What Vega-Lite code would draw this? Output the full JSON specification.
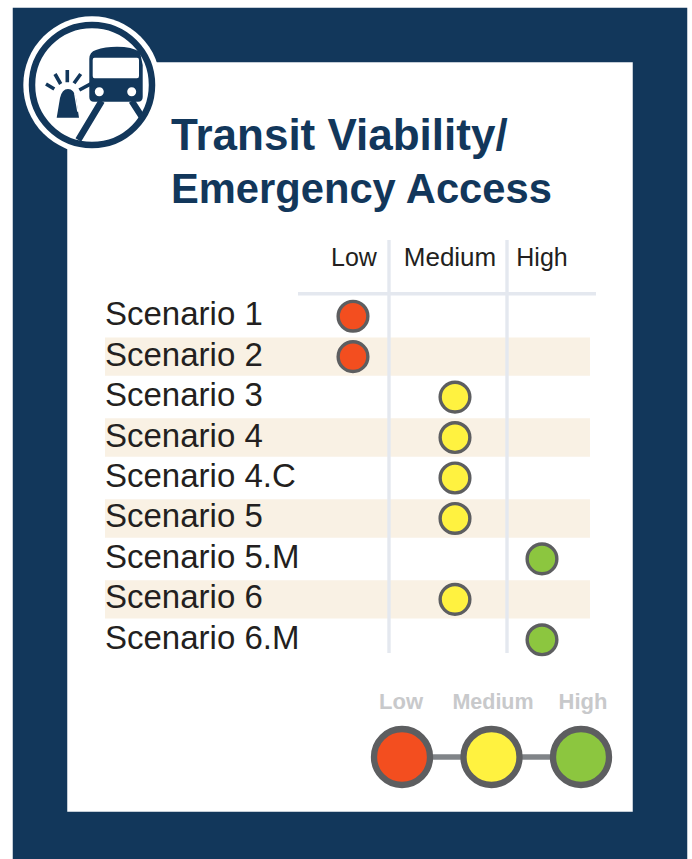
{
"$schema":"https://vega.github.io/schema/vega-lite/v6.json",
"width":620,"height":804,
"autosize":{"type":"none"},
"padding":{"left":40,"top":35,"right":32,"bottom":20},
"background":"white",
"view":{"fill":"white","stroke":"#12375b","strokeWidth":54.5},
"datasets":{
"scenarios":[
{"scenario":"Scenario 1","level":"Low","score":1,"striped":false},
{"scenario":"Scenario 2","level":"Low","score":1,"striped":true},
{"scenario":"Scenario 3","level":"Medium","score":2,"striped":false},
{"scenario":"Scenario 4","level":"Medium","score":2,"striped":true},
{"scenario":"Scenario 4.C","level":"Medium","score":2,"striped":false},
{"scenario":"Scenario 5","level":"Medium","score":2,"striped":true},
{"scenario":"Scenario 5.M","level":"High","score":3,"striped":false},
{"scenario":"Scenario 6","level":"Medium","score":2,"striped":true},
{"scenario":"Scenario 6.M","level":"High","score":3,"striped":false}
],
"levels":[{"level":"Low"},{"level":"Medium"},{"level":"High"}]
},
"resolve":{"scale":{"x":"independent","y":"independent"}},
"layer":[
{"layer":[
{"data":{"name":"scenarios"},"transform":[{"filter":"datum.striped"}],
"mark":{"type":"rect","fill":"#f9f1e4"},
"encoding":{
"x":{"datum":0,"type":"quantitative","axis":null,"scale":{"domain":[0,1,2,3,4],"range":[65,313,415,502,550]}},
"x2":{"datum":4},
"y":{"field":"scenario","type":"nominal","axis":null,"sort":null,"scale":{"type":"band","domain":["Scenario 1","Scenario 2","Scenario 3","Scenario 4","Scenario 4.C","Scenario 5","Scenario 5.M","Scenario 6","Scenario 6.M"],"range":[262,624],"paddingInner":0.05,"paddingOuter":0}}
}}
]},
{"layer":[
{"data":{"values":[{"element":"badge"}]},"mark":{"type":"point","shape":"circle","filled":true,"fill":"white","stroke":null,"size":18879,"opacity":1},
"encoding":{"x":{"datum":92,"type":"quantitative","axis":null,"scale":{"domain":[40,660],"nice":false,"zero":false}},"y":{"datum":85,"type":"quantitative","axis":null,"scale":{"domain":[35,839],"reverse":true,"nice":false,"zero":false}}}},
{"data":{"values":[{"element":"ring"}]},"mark":{"type":"point","shape":"circle","filled":false,"stroke":"#12375b","strokeWidth":6.5,"size":14400,"opacity":1},
"encoding":{"x":{"datum":92,"type":"quantitative","axis":null,"scale":{"domain":[40,660],"nice":false,"zero":false}},"y":{"datum":85,"type":"quantitative","axis":null,"scale":{"domain":[35,839],"reverse":true,"nice":false,"zero":false}}}},
{"data":{"values":[{"element":"train and beacon"}]},"mark":{"type":"point","filled":true,"fill":"#12375b","stroke":null,"size":4,"opacity":1,"shape":"M-2.7 -26Q-2.7 -33 4 -35Q13 -38.3 25 -38.3Q40 -38.3 48 -33L50.7 -20L50.7 12Q50.7 16.7 46 16.7L2 16.7Q-2.7 16.7 -2.7 12ZM-35.3 32.7L-32 13Q-30 4 -24 4Q-18 4 -16 13L-13 32.7Z"},
"encoding":{"x":{"datum":92,"type":"quantitative","axis":null,"scale":{"domain":[40,660],"nice":false,"zero":false}},"y":{"datum":85,"type":"quantitative","axis":null,"scale":{"domain":[35,839],"reverse":true,"nice":false,"zero":false}}}},
{"data":{"values":[{"element":"train window and lights"}]},"mark":{"type":"point","filled":true,"fill":"white","stroke":null,"size":4,"opacity":1,"shape":"M2.5 -27.3L45 -27.3Q47 -27.3 47 -25L47 -9Q47 -6.7 45 -6.7L2.5 -6.7Q0.7 -6.7 0.7 -9L0.7 -25Q0.7 -27.3 2.5 -27.3ZM2.8 6.7A4.5 4.5 0 1 0 11.8 6.7A4.5 4.5 0 1 0 2.8 6.7ZM35.2 6.7A4.5 4.5 0 1 0 44.2 6.7A4.5 4.5 0 1 0 35.2 6.7ZM-18 8.3L-16.6 8.3L-13.6 26.7L-14.8 26.7Z"},
"encoding":{"x":{"datum":92,"type":"quantitative","axis":null,"scale":{"domain":[40,660],"nice":false,"zero":false}},"y":{"datum":85,"type":"quantitative","axis":null,"scale":{"domain":[35,839],"reverse":true,"nice":false,"zero":false}}}},
{"data":{"values":[{"element":"tracks"}]},"mark":{"type":"point","filled":false,"stroke":"#12375b","strokeWidth":6.5,"size":4,"opacity":1,"shape":"M9.7 16L-13.7 55M39.7 16L50 32"},
"encoding":{"x":{"datum":92,"type":"quantitative","axis":null,"scale":{"domain":[40,660],"nice":false,"zero":false}},"y":{"datum":85,"type":"quantitative","axis":null,"scale":{"domain":[35,839],"reverse":true,"nice":false,"zero":false}}}},
{"data":{"values":[{"element":"beacon rays"}]},"mark":{"type":"point","filled":false,"stroke":"#12375b","strokeWidth":3.6,"size":4,"opacity":1,"shape":"M-46 -1L-37.7 4M-37 -11L-31.3 -1M-24.7 -15L-24.7 -2.7M-11.3 -11L-18 -1.7M-0.3 -1.7L-12.7 5"},
"encoding":{"x":{"datum":92,"type":"quantitative","axis":null,"scale":{"domain":[40,660],"nice":false,"zero":false}},"y":{"datum":85,"type":"quantitative","axis":null,"scale":{"domain":[35,839],"reverse":true,"nice":false,"zero":false}}}},
{"data":{"values":[{"label":"Transit Viability/"}]},"mark":{"type":"text","align":"left","baseline":"alphabetic","font":"Liberation Sans","fontWeight":"bold","fontSize":44,"fill":"#12375b"},
"encoding":{"text":{"field":"label"},"x":{"datum":171,"type":"quantitative","axis":null,"scale":{"domain":[40,660],"nice":false,"zero":false}},"y":{"datum":150,"type":"quantitative","axis":null,"scale":{"domain":[35,839],"reverse":true,"nice":false,"zero":false}}}},
{"data":{"values":[{"label":"Emergency Access"}]},"mark":{"type":"text","align":"left","baseline":"alphabetic","font":"Liberation Sans","fontWeight":"bold","fontSize":41.7,"fill":"#12375b"},
"encoding":{"text":{"field":"label"},"x":{"datum":171,"type":"quantitative","axis":null,"scale":{"domain":[40,660],"nice":false,"zero":false}},"y":{"datum":203,"type":"quantitative","axis":null,"scale":{"domain":[35,839],"reverse":true,"nice":false,"zero":false}}}},
{"data":{"values":[{"label":"Low"}]},"mark":{"type":"text","align":"center","baseline":"alphabetic","font":"Liberation Sans","fontSize":25,"fill":"#231f20"},
"encoding":{"text":{"field":"label"},"x":{"datum":354,"type":"quantitative","axis":null,"scale":{"domain":[40,660],"nice":false,"zero":false}},"y":{"datum":266,"type":"quantitative","axis":null,"scale":{"domain":[35,839],"reverse":true,"nice":false,"zero":false}}}},
{"data":{"values":[{"label":"Medium"}]},"mark":{"type":"text","align":"center","baseline":"alphabetic","font":"Liberation Sans","fontSize":26,"fill":"#231f20"},
"encoding":{"text":{"field":"label"},"x":{"datum":450,"type":"quantitative","axis":null,"scale":{"domain":[40,660],"nice":false,"zero":false}},"y":{"datum":266,"type":"quantitative","axis":null,"scale":{"domain":[35,839],"reverse":true,"nice":false,"zero":false}}}},
{"data":{"values":[{"label":"High"}]},"mark":{"type":"text","align":"center","baseline":"alphabetic","font":"Liberation Sans","fontSize":25,"fill":"#231f20"},
"encoding":{"text":{"field":"label"},"x":{"datum":542,"type":"quantitative","axis":null,"scale":{"domain":[40,660],"nice":false,"zero":false}},"y":{"datum":266,"type":"quantitative","axis":null,"scale":{"domain":[35,839],"reverse":true,"nice":false,"zero":false}}}},
{"data":{"values":[{"label":"Low"}]},"mark":{"type":"text","align":"center","baseline":"alphabetic","font":"Liberation Sans","fontWeight":"bold","fontSize":22,"fill":"#c8c9cb"},
"encoding":{"text":{"field":"label"},"x":{"datum":401,"type":"quantitative","axis":null,"scale":{"domain":[40,660],"nice":false,"zero":false}},"y":{"datum":709,"type":"quantitative","axis":null,"scale":{"domain":[35,839],"reverse":true,"nice":false,"zero":false}}}},
{"data":{"values":[{"label":"Medium"}]},"mark":{"type":"text","align":"center","baseline":"alphabetic","font":"Liberation Sans","fontWeight":"bold","fontSize":21.5,"fill":"#c8c9cb"},
"encoding":{"text":{"field":"label"},"x":{"datum":493,"type":"quantitative","axis":null,"scale":{"domain":[40,660],"nice":false,"zero":false}},"y":{"datum":709,"type":"quantitative","axis":null,"scale":{"domain":[35,839],"reverse":true,"nice":false,"zero":false}}}},
{"data":{"values":[{"label":"High"}]},"mark":{"type":"text","align":"center","baseline":"alphabetic","font":"Liberation Sans","fontWeight":"bold","fontSize":22,"fill":"#c8c9cb"},
"encoding":{"text":{"field":"label"},"x":{"datum":583,"type":"quantitative","axis":null,"scale":{"domain":[40,660],"nice":false,"zero":false}},"y":{"datum":709,"type":"quantitative","axis":null,"scale":{"domain":[35,839],"reverse":true,"nice":false,"zero":false}}}},
{"data":{"values":[{"element":"divider low-medium"}]},"mark":{"type":"rule","stroke":"#e4e8ef","strokeWidth":3.4},
"encoding":{"x":{"datum":389,"type":"quantitative","axis":null,"scale":{"domain":[40,660],"nice":false,"zero":false}},"y":{"datum":240,"type":"quantitative","axis":null,"scale":{"domain":[35,839],"reverse":true,"nice":false,"zero":false}},"y2":{"datum":653}}},
{"data":{"values":[{"element":"divider medium-high"}]},"mark":{"type":"rule","stroke":"#e4e8ef","strokeWidth":3.4},
"encoding":{"x":{"datum":507,"type":"quantitative","axis":null,"scale":{"domain":[40,660],"nice":false,"zero":false}},"y":{"datum":240,"type":"quantitative","axis":null,"scale":{"domain":[35,839],"reverse":true,"nice":false,"zero":false}},"y2":{"datum":653}}},
{"data":{"values":[{"element":"header rule"}]},"mark":{"type":"rule","stroke":"#e4e8ef","strokeWidth":3.4},
"encoding":{"x":{"datum":298,"type":"quantitative","axis":null,"scale":{"domain":[40,660],"nice":false,"zero":false}},"x2":{"datum":596},"y":{"datum":293.7,"type":"quantitative","axis":null,"scale":{"domain":[35,839],"reverse":true,"nice":false,"zero":false}}}}
]},
{"layer":[
{"data":{"name":"scenarios"},
"mark":{"type":"text","align":"left","baseline":"middle","dy":-1,"font":"Liberation Sans","fontSize":33,"fill":"#231f20"},
"encoding":{
"text":{"field":"scenario"},
"x":{"datum":0,"type":"quantitative","axis":null,"scale":{"domain":[0,1,2,3,4],"range":[65,313,415,502,550]}},
"y":{"field":"scenario","type":"nominal","axis":null,"sort":null,"scale":{"type":"band","domain":["Scenario 1","Scenario 2","Scenario 3","Scenario 4","Scenario 4.C","Scenario 5","Scenario 5.M","Scenario 6","Scenario 6.M"],"range":[262,624],"paddingInner":0.05,"paddingOuter":0}}
}},
{"data":{"name":"scenarios"},
"mark":{"type":"point","shape":"circle","filled":true,"stroke":"#5d5e60","strokeWidth":3.4,"size":882,"opacity":1},
"encoding":{
"x":{"field":"score","type":"quantitative","axis":null,"scale":{"domain":[0,1,2,3,4],"range":[65,313,415,502,550]}},
"y":{"field":"scenario","type":"nominal","axis":null,"sort":null,"scale":{"type":"band","domain":["Scenario 1","Scenario 2","Scenario 3","Scenario 4","Scenario 4.C","Scenario 5","Scenario 5.M","Scenario 6","Scenario 6.M"],"range":[262,624],"paddingInner":0.05,"paddingOuter":0}},
"fill":{"field":"level","type":"nominal","legend":null,"scale":{"domain":["Low","Medium","High"],"range":["#f34e1f","#fff240","#8cc63f"]}}
}}
]},
{"layer":[
{"data":{"name":"levels"},
"mark":{"type":"line","stroke":"#808488","strokeWidth":5.5},
"encoding":{
"x":{"field":"level","type":"nominal","axis":null,"sort":null,"scale":{"type":"point","domain":["Low","Medium","High"],"range":[362,541],"padding":0}},
"y":{"datum":757,"type":"quantitative","axis":null,"scale":{"domain":[35,839],"reverse":true,"nice":false,"zero":false}}
}},
{"data":{"name":"levels"},
"mark":{"type":"point","shape":"circle","filled":true,"stroke":"#5d5e60","strokeWidth":6.3,"size":3136,"opacity":1},
"encoding":{
"x":{"field":"level","type":"nominal","axis":null,"sort":null,"scale":{"type":"point","domain":["Low","Medium","High"],"range":[362,541],"padding":0}},
"y":{"datum":757,"type":"quantitative","axis":null,"scale":{"domain":[35,839],"reverse":true,"nice":false,"zero":false}},
"fill":{"field":"level","type":"nominal","legend":null,"scale":{"domain":["Low","Medium","High"],"range":["#f34e1f","#fff240","#8cc63f"]}}
}}
]}
]
}
